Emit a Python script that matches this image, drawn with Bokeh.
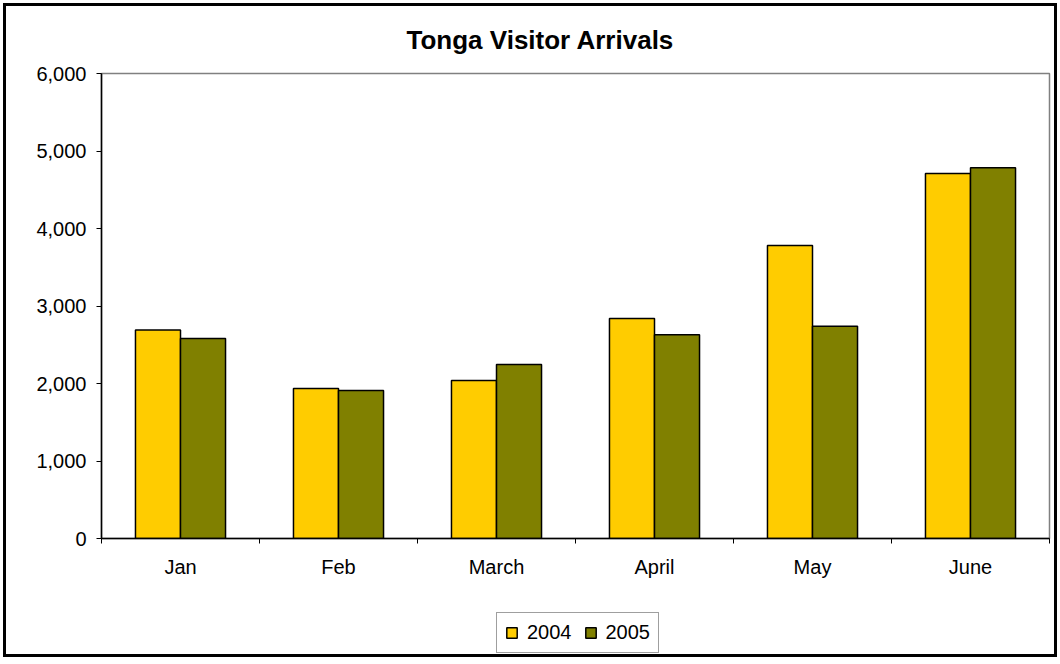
from bokeh.plotting import figure
from bokeh.layouts import column
from bokeh.models import ColumnDataSource, FixedTicker, NumeralTickFormatter, Legend, LegendItem, Range1d
from bokeh.transform import dodge
from bokeh.embed import file_html
from bokeh.resources import INLINE

months = ["Jan", "Feb", "March", "April", "May", "June"]
arrivals_2004 = [2690, 1935, 2040, 2840, 3780, 4710]
arrivals_2005 = [2580, 1910, 2245, 2630, 2740, 4785]
series_names = ["2004", "2005"]
series_fields = ["v2004", "v2005"]
series_colors = ["#FFCC00", "#808000"]
y_ticks = [0, 1000, 2000, 3000, 4000, 5000, 6000]

FONT = "Liberation Sans"
W = 1060

centers = [i + 0.5 for i in range(len(months))]
src = ColumnDataSource(dict(x=centers, v2004=arrivals_2004, v2005=arrivals_2005))

p = figure(width=W, height=590, output_backend="svg", toolbar_location=None,
           x_range=Range1d(0, len(months)), y_range=Range1d(0, 6000),
           min_border_left=101, min_border_right=W - 1049, min_border_top=73, min_border_bottom=52)

p.title.text = "Tonga Visitor Arrivals"
p.title.align = "left"
p.title.text_font = FONT
p.title.text_font_size = "26px"
p.title.text_font_style = "bold"
p.title.text_color = "black"
p.title.offset = 305
p.title.standoff = 37

bw = 0.285
offsets = [-bw / 2, bw / 2]
for field, color, off in zip(series_fields, series_colors, offsets):
    p.vbar(x=dodge("x", off, range=p.x_range), top=field, width=bw, source=src,
           fill_color=color, line_color="black", line_width=1.5)

p.xgrid.visible = False
p.ygrid.visible = False
p.outline_line_color = "#808080"
p.outline_line_width = 1.5
p.background_fill_color = "white"
p.border_fill_color = None

# x axis: labels at centers, tick marks between categories
p.xaxis.ticker = FixedTicker(ticks=centers, minor_ticks=list(range(len(months) + 1)))
p.xaxis.major_label_overrides = {c: m for c, m in zip(centers, months)}
p.xaxis.major_tick_line_alpha = 0
p.xaxis.major_tick_out = 5
p.xaxis.major_tick_in = 0
p.xaxis.minor_tick_out = 5
p.xaxis.minor_tick_in = 0
p.xaxis.minor_tick_line_color = "black"
p.xaxis.minor_tick_line_width = 1
p.xaxis.axis_line_color = "black"
p.xaxis.axis_line_width = 1.5
p.xaxis.major_label_text_font = FONT
p.xaxis.major_label_text_font_size = "20px"
p.xaxis.major_label_text_color = "black"
p.xaxis.major_label_standoff = 12

p.yaxis.ticker = FixedTicker(ticks=y_ticks, minor_ticks=[])
p.yaxis.formatter = NumeralTickFormatter(format="0,0")
p.yaxis.major_tick_out = 5
p.yaxis.major_tick_in = 0
p.yaxis.minor_tick_line_alpha = 0
p.yaxis.axis_line_color = "black"
p.yaxis.axis_line_width = 1.5
p.yaxis.major_tick_line_color = "black"
p.yaxis.major_label_text_font = FONT
p.yaxis.major_label_text_font_size = "20px"
p.yaxis.major_label_text_color = "black"
p.yaxis.major_label_standoff = 10

# legend strip below the chart; its renderers are hidden, they only supply the swatches
lg = figure(width=W, height=70, output_backend="svg", toolbar_location=None,
            x_axis_type=None, y_axis_type=None,
            min_border_left=101, min_border_right=W - 1049, min_border_top=15, min_border_bottom=0)
lg.outline_line_color = None
lg.background_fill_color = None
lg.border_fill_color = None
items = []
for name, field, color in zip(series_names, series_fields, series_colors):
    r = lg.vbar(x="x", top=field, width=bw, source=src, fill_color=color,
                line_color="black", line_width=1.5, visible=False)
    items.append(LegendItem(label=name, renderers=[r]))

legend = Legend(items=items, orientation="horizontal", location=(395, 7))
legend.label_text_font = FONT
legend.label_text_font_size = "20px"
legend.label_text_color = "black"
legend.glyph_width = 13
legend.glyph_height = 13
legend.label_standoff = 9
legend.spacing = 12
legend.padding = 8
legend.margin = 0
legend.inactive_fill_alpha = 0
legend.border_line_color = "#404040"
legend.border_line_width = 1.5
legend.background_fill_color = "white"
lg.add_layout(legend, "center")

layout = column(p, lg, spacing=0,
                styles={"background": "white", "outline": "3px solid black", "outline-offset": "-6px"})

open("out.html", "w").write(file_html(layout, INLINE))
